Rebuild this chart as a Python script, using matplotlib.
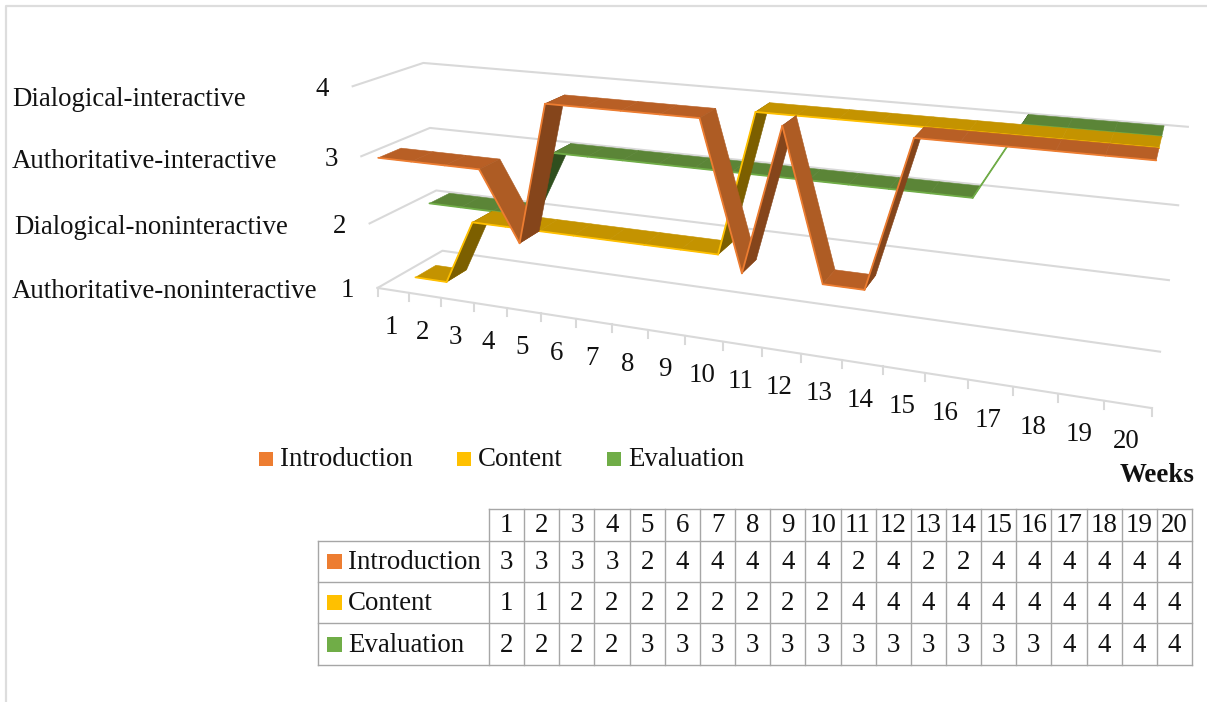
import numpy as np
import matplotlib
matplotlib.use("Agg")
import matplotlib.pyplot as plt
from matplotlib.patches import Rectangle

# Data
weeks = list(range(1, 21))
introduction = [3, 3, 3, 3, 2, 4, 4, 4, 4, 4, 2, 4, 2, 2, 4, 4, 4, 4, 4, 4]
content = [1, 1, 2, 2, 2, 2, 2, 2, 2, 2, 4, 4, 4, 4, 4, 4, 4, 4, 4, 4]
evaluation = [2, 2, 2, 2, 3, 3, 3, 3, 3, 3, 3, 3, 3, 3, 3, 3, 4, 4, 4, 4]
series_names = ["Introduction", "Content", "Evaluation"]
levels = [1, 2, 3, 4]
level_names = ["Authoritative-noninteractive", "Dialogical-noninteractive",
               "Authoritative-interactive", "Dialogical-interactive"]

plt.rcParams["font.family"] = ["Liberation Serif", "DejaVu Serif"]
FS = 19.4
INK = "#111111"
GRID = "#D9D9D9"

fig = plt.figure(figsize=(12.07, 7.02), dpi=100)
ax = fig.add_axes([0, 0, 1, 1])
ax.set_xlim(0, 1207)
ax.set_ylim(702, 0)
ax.axis("off")

# --- Perspective of the chart box ---------------------------------
# (u along weeks 0..1, v level, d depth 0..1) -> picture pixels
box = [(0, 1, 0, 378, 288), (1, 1, 0, 1152, 408), (0, 1, 1, 442, 251), (1, 1, 1, 1160, 352),
       (0, 2, 0, 369, 223), (0, 2, 1, 437, 190), (1, 2, 1, 1169, 280),
       (0, 3, 0, 361, 157), (0, 3, 1, 430, 128), (1, 3, 1, 1178, 205),
       (0, 4, 0, 353, 86), (0, 4, 1, 423, 63), (1, 4, 1, 1188, 127)]
A, b = [], []
for u, v, d, px, py in box:
    A.append([u, v, d, 1, 0, 0, 0, 0, -px * u, -px * v, -px * d])
    b.append(px)
    A.append([0, 0, 0, 0, u, v, d, 1, -py * u, -py * v, -py * d])
    b.append(py)
H = np.linalg.lstsq(np.array(A, float), np.array(b, float), rcond=None)[0]


def project(week, level, depth):
    u = (week - 0.5) / 20
    w = H[8] * u + H[9] * level + H[10] * depth + 1
    return ((H[0] * u + H[1] * level + H[2] * depth + H[3]) / w,
            (H[4] * u + H[5] * level + H[6] * depth + H[7]) / w)


# --- Frame around the figure
ax.plot([6, 6, 1207], [702, 6, 6], color="#DDDDDD", lw=1.6, zorder=0)

# --- Grid lines
for level in levels:
    p0 = project(0.5, level, 0)
    p1 = project(0.5, level, 1)
    p2 = project(20.5, level, 1)
    ax.plot([p0[0], p1[0], p2[0]], [p0[1], p1[1], p2[1]], color=GRID, lw=1.5, zorder=1)
p0 = project(0.5, 1, 0)
p1 = project(20.5, 1, 0)
ax.plot([p0[0], p1[0]], [p0[1], p1[1]], color=GRID, lw=1.5, zorder=1)
for t in range(21):
    x, y = project(t + 0.5, 1, 0)
    ax.plot([x, x], [y, y + 8], color=GRID, lw=1.5, zorder=1)

# --- Ribbons, back to front
styles = [
    (evaluation, 0.65, "#70AD47", "#5B8537", "#2F4F1E", "#5B8537"),
    (content, 0.33, "#FFC000", "#C49300", "#7C5F00", "#C49300"),
    (introduction, 0.01, "#ED7D31", "#B85F25", "#85451B", "#AE5C24"),
]
ribbon_width = 0.32
z = 2
for values, start, edge, flat_c, rise_c, fall_c in styles:
    for i in range(len(weeks) - 1):
        w0, w1 = weeks[i], weeks[i + 1]
        v0, v1 = values[i], values[i + 1]
        if v1 > v0:
            c = rise_c
        elif v1 < v0:
            c = fall_c
        else:
            c = flat_c
        corners = [project(w0, v0, start), project(w1, v1, start),
                   project(w1, v1, start + ribbon_width), project(w0, v0, start + ribbon_width)]
        ax.fill([p[0] for p in corners], [p[1] for p in corners], color=c, lw=0.4, zorder=z)
        z += 1
        ax.plot([corners[0][0], corners[1][0]], [corners[0][1], corners[1][1]],
                color=edge, lw=1.3, solid_capstyle="round", zorder=z)
        z += 1

# --- Axis labels
for level in levels:
    x, y = project(0.5, level, 0)
    ax.text(x - 30, y + 3, str(level), fontsize=FS, color=INK, ha="center", va="center", zorder=500)
name_pos = {1: (12, 291), 2: (14, 228), 3: (12, 161), 4: (12, 100)}
for level, name in zip(levels, level_names):
    ax.text(name_pos[level][0], name_pos[level][1], name, fontsize=FS, color=INK,
            ha="left", va="center", zorder=500)
for week in weeks:
    x, y = project(week, 1, 0)
    ax.text(x - 2, y + 37, str(week), fontsize=FS, color=INK, ha="center", va="center", zorder=500)
ax.text(1157, 475, "Weeks", fontsize=FS, fontweight="bold", color=INK, ha="center", va="center", zorder=500)

# --- Legend
series_colors = ["#ED7D31", "#FFC000", "#70AD47"]
legend_x = [259, 457, 607]
for name, color, x in zip(series_names, series_colors, legend_x):
    ax.add_patch(Rectangle((x, 452), 14, 14, color=color, lw=0, zorder=500))
    ax.text(x + 21, 460, name, fontsize=FS, color=INK, ha="left", va="center", zorder=500)

# --- Data table
TABLE = "#A6A6A6"
col_left = 489
col_w = 35.15
right = col_left + col_w * 20
rows_y = [508.5, 541, 582, 623, 665]
ax.plot([col_left, right], [rows_y[0], rows_y[0]], color=TABLE, lw=1.0, zorder=500)
for y in rows_y[1:]:
    ax.plot([318, right], [y, y], color=TABLE, lw=1.0, zorder=500)
ax.plot([318, 318], [rows_y[1], rows_y[4]], color=TABLE, lw=1.0, zorder=500)
for i in range(21):
    x = col_left + i * col_w
    ax.plot([x, x], [rows_y[0], rows_y[4]], color=TABLE, lw=1.0, zorder=500)
for i, week in enumerate(weeks):
    ax.text(col_left + (i + 0.5) * col_w, (rows_y[0] + rows_y[1]) / 2 + 1, str(week), fontsize=FS,
            color=INK, ha="center", va="center", zorder=501)
table_rows = [introduction, content, evaluation]
for r, (name, color, values) in enumerate(zip(series_names, series_colors, table_rows)):
    yc = (rows_y[r + 1] + rows_y[r + 2]) / 2
    ax.add_patch(Rectangle((327, yc - 7.5), 15, 15, color=color, lw=0, zorder=501))
    ax.text(348, yc + 1, name, fontsize=FS, color=INK, ha="left", va="center", zorder=501)
    for i, val in enumerate(values):
        ax.text(col_left + (i + 0.5) * col_w, yc + 1, str(val), fontsize=FS, color=INK,
                ha="center", va="center", zorder=501)

fig.savefig("out.png", dpi=100, facecolor="white")
